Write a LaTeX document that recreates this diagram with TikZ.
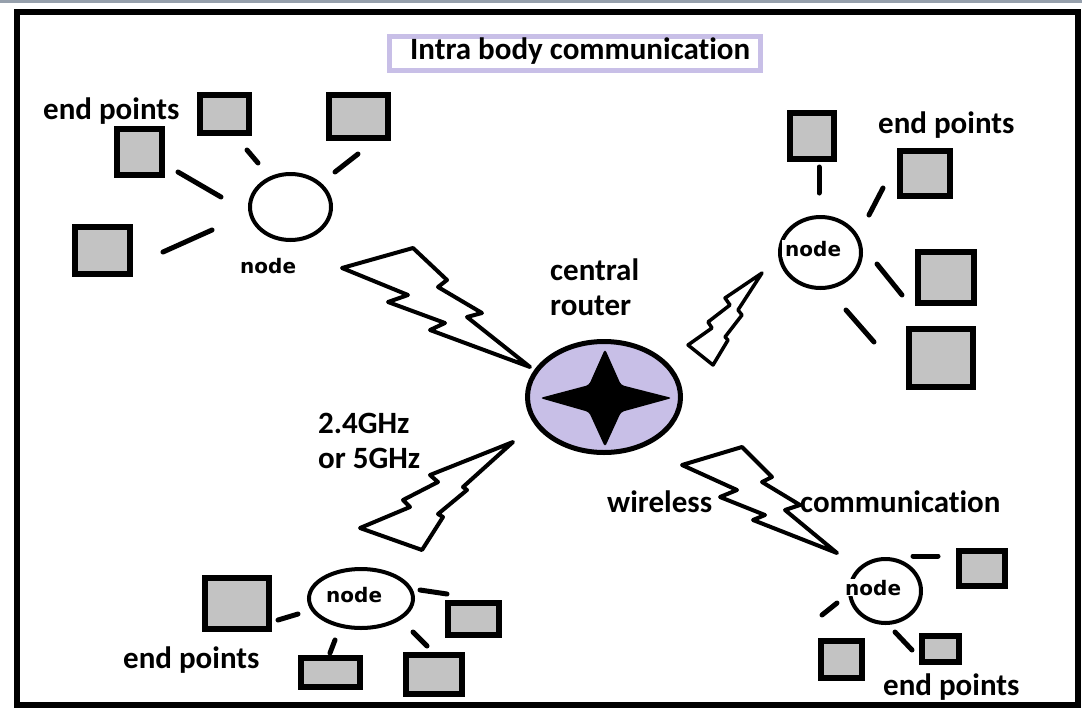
\documentclass[tikz,border=0pt]{standalone}
\usepackage{fontspec}
\setmainfont{Carlito}[Ligatures={NoCommon,NoContextual,NoRare}, Contextuals={NoAlternate}]
\newfontfamily\nodefont{DejaVu Sans}
\usetikzlibrary{shapes.geometric}
\definecolor{lav}{RGB}{200,191,231}
\definecolor{epgray}{RGB}{195,195,195}
\definecolor{topbar}{RGB}{150,160,172}
\begin{document}
\begin{tikzpicture}[x=1pt,y=-1pt,
  ep/.style={draw=black, fill=epgray, line width=6pt, inner sep=0pt},
  hub/.style={draw=black, line width=4pt, ellipse, inner sep=0pt},
  stub/.style={line width=5pt, line cap=round},
  bolt/.style={draw=black, line width=4pt, line join=round, fill=white},
  lbl/.style={font=\fontsize{31}{35}\selectfont\bfseries, anchor=base west, inner sep=0pt},
  nlbl/.style={font=\nodefont\fontsize{20}{24}\selectfont\bfseries, anchor=base west, inner sep=0pt},
  nlblw/.style={nlbl, fill=white, inner xsep=3pt, inner ysep=1pt},
]
\useasboundingbox (0,0) rectangle (1082,710);
\fill[white] (0,0) rectangle (1082,710);
\fill[topbar] (0,0) rectangle (1082,2.5);
\draw[line width=6pt] (17,12) rectangle (1078,705);

% title
\node[draw=lav, line width=5pt, minimum width=371pt, minimum height=34pt, inner sep=0pt] (titlebox) at (575,53.5) {};
\node[lbl] (title) at (410,59) {Intra body communication};

% central router
\node[ellipse, draw=black, line width=5pt, fill=lav, minimum width=153pt, minimum height=111pt, inner sep=0pt] (router) at (604,397) {};
\fill[rounded corners=3pt] (605,349) -- (589,385) -- (540,398) -- (589,412) -- (605,447)
      -- (621,412) -- (672,398) -- (621,385) -- cycle;
\node[lbl] (central) at (550,280) {central};
\node[lbl] (routertxt) at (550,315) {router};

% bolts
\draw[bolt] (342,268) -- (413,248) -- (447,280) -- (438,287) -- (482,313) -- (467,317) -- (530,367)
  -- (430,330) -- (445,323) -- (388,302) -- (408,295) -- cycle;
\draw[bolt] (513,442) -- (430,475) -- (438,482) -- (403,500) -- (410,507) -- (360,528) -- (422,550)
  -- (443,517) -- (438,514) -- (467,490) -- (463,487) -- cycle;
\draw[bolt] (682,465) -- (742,447) -- (772,477) -- (762,482) -- (800,505) -- (785,510) -- (837,553)
  -- (753,520) -- (765,515) -- (720,497) -- (737,490) -- cycle;
\draw[bolt, line width=3.5pt] (762,273) -- (725,298) -- (730,305) -- (708,322) -- (712,328) -- (688,345)
  -- (713,365) -- (728,340) -- (725,337) -- (742,315) -- (738,310) -- cycle;

% top-left cluster
\node[hub, minimum width=81pt, minimum height=66pt] (n1) at (290.5,207) {};
\node[nlbl] (n1t) at (240,273) {node};
\node[ep, minimum width=49pt, minimum height=38pt] (a) at (224.5,114) {};
\node[ep, minimum width=59pt, minimum height=43pt] (b) at (358.5,116.5) {};
\node[ep, minimum width=45pt, minimum height=46pt] (c) at (139.5,152) {};
\node[ep, minimum width=55pt, minimum height=47pt] (d) at (102.5,250.5) {};
\draw[stub] (247,150) -- (258,163);
\draw[stub] (335,172) -- (358,154);
\draw[stub] (178,172) -- (221,197);
\draw[stub] (163,252) -- (212,230);
\node[lbl] (ep1) at (43,119) {end points};

% top-right cluster
\node[hub, minimum width=81pt, minimum height=71pt] (n2) at (820.5,252.5) {};
\node[nlblw] (n2t) at (782,256) {node};
\node[ep, minimum width=44pt, minimum height=46pt] (e) at (812,136) {};
\node[ep, minimum width=50pt, minimum height=45pt] (f) at (925,173.5) {};
\node[ep, minimum width=56pt, minimum height=51pt] (g) at (946,277.5) {};
\node[ep, minimum width=64pt, minimum height=58pt] (h) at (941,358) {};
\draw[stub] (819,167) -- (819,193);
\draw[stub] (869,215) -- (883,188);
\draw[stub] (877,264) -- (902,295);
\draw[stub] (846,310) -- (874,342);
\node[lbl] (ep2) at (878,133) {end points};

% bottom-left cluster
\node[hub, minimum width=104pt, minimum height=59pt] (n3) at (361,598.5) {};
\node[nlbl] (n3t) at (326,602) {node};
\node[ep, minimum width=64pt, minimum height=51pt] (i) at (237,603.5) {};
\node[ep, minimum width=51pt, minimum height=32pt] (j) at (473.5,619) {};
\node[ep, minimum width=59pt, minimum height=29pt] (k) at (330.5,672.5) {};
\node[ep, minimum width=56pt, minimum height=39pt] (l) at (434,674.5) {};
\draw[stub] (278,620) -- (298,614);
\draw[stub] (420,590) -- (447,594);
\draw[stub] (335,640) -- (330,653);
\draw[stub] (413,632) -- (427,646);
\node[lbl] (ep3) at (123,668) {end points};
\node[lbl] (freq1) at (318,433) {2.4GHz};
\node[lbl] (freq2) at (318,468) {or 5GHz};

% bottom-right cluster
\node[hub, minimum width=71pt, minimum height=64pt] (n4) at (885.5,591) {};
\node[nlblw] (n4t) at (842,595) {node};
\node[ep, minimum width=46pt, minimum height=35pt] (m) at (982,568.5) {};
\node[ep, minimum width=41pt, minimum height=37pt] (nn) at (841.5,659.5) {};
\node[ep, minimum width=37pt, minimum height=26pt] (o) at (940.5,649) {};
\draw[stub] (913,556) -- (938,556);
\draw[stub] (822,615) -- (837,603);
\draw[stub] (895,632) -- (912,650);
\node[lbl] (ep4) at (883,695) {end points};
\node[lbl] (wl) at (607,512) {wireless};
\node[lbl] (comm) at (800,512) {communication};
\end{tikzpicture}
\end{document}
